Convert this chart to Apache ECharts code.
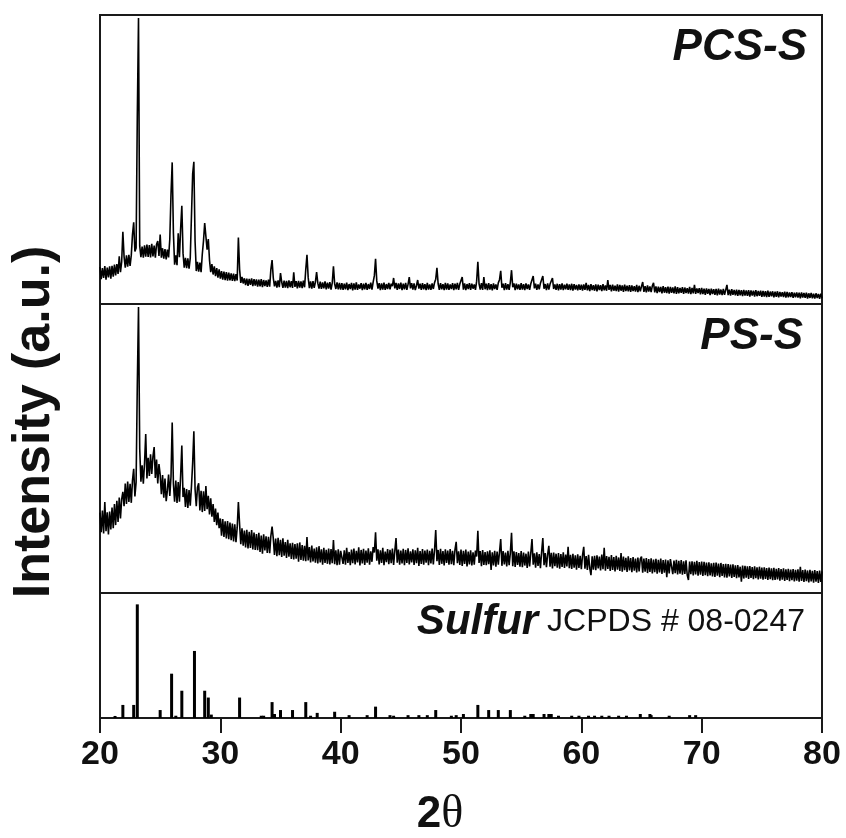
<!DOCTYPE html>
<html>
<head>
<meta charset="utf-8">
<script src="https://cdn.jsdelivr.net/npm/echarts@6/dist/echarts.min.js"></script>
<style>html,body{margin:0;padding:0;background:#fff;}#c{width:846px;height:838px;}</style>
</head>
<body>
<div id="c"></div>
<script>
// ---- DATA ----
// PCS-S pattern, 2θ = 20.0 .. 40.0 step 0.1
const pcsLow = [
12.8, 8.6, 12.4, 9.0, 13.1, 8.4, 12.6, 9.2, 13.0, 8.8,
13.2, 9.5, 13.6, 9.9, 13.8, 10.4, 16.5, 11.0, 14.6, 25.0,
16.4, 12.6, 16.8, 12.9, 17.0, 13.2, 16.9, 24.0, 28.3, 18.2,
19.4, 65.0, 99.0, 20.1, 16.2, 19.9, 16.0, 20.3, 16.4, 20.6,
16.3, 20.4, 16.1, 20.8, 16.5, 20.2, 16.0, 20.7, 21.8, 16.6,
24.0, 16.0, 19.3, 15.7, 19.0, 15.4, 18.8, 16.1, 22.4, 38.0,
49.0, 24.6, 13.6, 16.8, 13.4, 24.5, 16.2, 26.0, 34.0, 17.6,
12.6, 16.0, 12.4, 15.8, 12.2, 15.9, 16.3, 45.0, 49.2, 21.8,
11.4, 14.6, 11.2, 14.3, 11.0, 17.2, 21.8, 28.0, 23.4, 18.8,
22.5, 15.2, 11.0, 13.8, 10.2, 13.0, 9.6, 12.4, 9.1, 12.0,
8.8, 11.4, 8.4, 11.2, 8.3, 11.0, 8.1, 10.9, 8.2, 10.6,
8.0, 10.5, 7.9, 10.3, 8.1, 23.0, 12.0, 7.3, 9.4, 7.1,
8.9, 6.5, 8.8, 6.3, 8.7, 6.6, 8.9, 6.2, 8.6, 6.4,
8.5, 6.0, 8.4, 6.1, 8.6, 5.8, 8.3, 6.2, 8.2, 5.9,
8.4, 6.0, 12.0, 15.2, 9.0, 6.1, 8.0, 5.7, 8.2, 5.8,
10.7, 7.6, 5.6, 8.1, 5.7, 8.0, 5.5, 8.2, 5.8, 7.9,
5.6, 11.0, 5.9, 7.9, 5.4, 8.0, 5.7, 7.8, 5.5, 8.1,
5.8, 12.0, 17.0, 9.2, 5.5, 7.8, 5.3, 7.9, 5.6, 7.6,
11.0, 7.2, 5.3, 7.7, 5.2, 7.5, 5.4, 7.8, 5.1, 7.4,
5.3, 7.6, 5.0, 7.3, 13.0, 7.0, 5.2, 7.5, 5.1, 7.3, 5.0
];
// PCS-S pattern, 2θ = 40.1 .. 80.0 step 0.1
const pcsHigh = [
7.2, 4.9, 7.0, 5.1, 7.4, 4.8, 6.9, 5.2, 7.3, 4.7,
7.1, 5.0, 7.5, 4.9, 6.8, 5.3, 7.2, 4.8, 7.0, 5.1,
7.3, 4.9, 6.9, 5.2, 7.4, 5.0, 7.6, 9.8, 15.6, 8.0,
5.3, 7.2, 4.8, 7.1, 5.0, 7.4, 4.9, 6.9, 5.2, 7.3,
5.1, 7.0, 6.2, 9.0, 5.4, 7.3, 4.9, 7.1, 5.2, 7.4,
4.8, 7.0, 5.1, 7.3, 4.9, 6.8, 9.3, 5.4, 7.2, 5.0,
7.1, 4.8, 6.4, 8.3, 5.3, 7.0, 4.9, 7.2, 5.1, 6.9,
4.8, 7.3, 5.0, 6.8, 4.9, 7.1, 5.2, 7.4, 8.6, 12.5,
7.0, 4.9, 7.2, 5.1, 6.9, 4.8, 7.3, 5.0, 7.1, 4.9,
6.8, 5.2, 7.2, 4.8, 7.0, 5.1, 7.3, 4.9, 6.9, 6.6,
9.3, 5.0, 7.1, 4.8, 6.9, 5.2, 7.2, 4.9, 7.0, 5.3,
6.8, 4.9, 7.9, 14.6, 7.0, 5.0, 7.2, 4.9, 9.3, 5.1,
7.0, 4.8, 7.2, 5.0, 6.9, 4.7, 7.1, 5.2, 6.8, 4.9,
7.3, 8.4, 11.5, 5.6, 7.0, 4.8, 7.2, 5.0, 6.9, 4.9,
7.5, 11.7, 5.8, 7.1, 4.8, 7.0, 5.1, 6.8, 4.9, 7.2,
5.0, 6.9, 4.8, 7.1, 5.2, 6.8, 4.9, 7.0, 7.6, 9.7,
5.4, 7.0, 4.9, 6.8, 5.1, 7.2, 7.4, 9.7, 5.3, 6.9,
4.8, 7.1, 5.0, 6.9, 7.2, 9.0, 5.2, 6.8, 4.9, 7.0,
4.7, 6.9, 5.0, 7.1, 4.8, 6.7, 5.1, 7.0, 4.9, 6.8,
4.8, 7.0, 4.6, 6.9, 5.0, 6.6, 4.7, 6.8, 4.9, 6.7,
4.6, 6.8, 4.9, 7.3, 4.7, 6.6, 4.5, 6.9, 4.8, 6.5,
4.6, 6.8, 4.4, 6.7, 4.8, 6.5, 4.5, 6.9, 4.7, 6.4,
4.6, 8.3, 4.9, 6.6, 4.4, 6.7, 4.6, 6.3, 4.5, 6.8,
4.3, 6.6, 4.6, 6.4, 4.2, 6.7, 4.5, 6.3, 4.4, 6.5,
4.2, 6.4, 4.5, 6.2, 4.3, 6.6, 4.1, 6.3, 4.4, 6.1,
7.6, 4.2, 6.2, 4.0, 6.4, 4.3, 6.1, 4.1, 6.3, 7.3,
4.0, 6.1, 3.8, 6.0, 4.1, 5.9, 3.7, 6.2, 3.9, 5.8,
3.8, 6.0, 3.6, 5.9, 3.9, 5.7, 3.7, 6.1, 3.5, 5.8,
3.7, 5.6, 3.9, 5.8, 3.5, 5.7, 3.8, 5.5, 3.6, 5.9,
3.4, 5.6, 3.7, 6.6, 3.5, 5.4, 3.8, 5.5, 3.3, 5.6,
3.4, 5.3, 3.2, 5.4, 3.5, 5.2, 3.1, 5.3, 3.4, 5.1,
3.2, 5.2, 3.0, 5.3, 3.3, 5.0, 3.1, 5.2, 3.2, 4.9,
6.6, 3.1, 5.0, 2.9, 5.1, 3.2, 4.9, 3.0, 5.0, 2.8,
4.9, 3.0, 4.8, 2.7, 4.9, 2.9, 4.7, 2.8, 4.8, 2.6,
4.7, 2.9, 4.6, 2.6, 4.8, 2.7, 4.5, 2.8, 4.6, 2.5,
4.5, 2.6, 4.4, 2.4, 4.6, 2.5, 4.3, 2.7, 4.4, 2.3,
4.3, 2.5, 4.4, 2.3, 4.2, 2.6, 4.1, 2.4, 4.3, 2.2,
4.2, 2.3, 4.0, 2.4, 4.1, 2.1, 3.9, 2.3, 4.0, 2.2,
3.9, 2.0, 4.0, 2.2, 3.8, 2.1, 3.9, 1.9, 3.7, 2.1,
3.8, 2.0, 3.6, 1.9, 3.7, 2.1, 3.5, 1.8, 3.6, 2.0
];
// PS-S pattern, 2θ = 20.0 .. 40.0 step 0.1
const psLow = [
27.8, 21.0, 28.5, 20.6, 31.5, 21.4, 27.9, 20.3, 28.2, 22.0,
29.6, 22.4, 30.8, 23.5, 31.9, 24.6, 33.0, 25.8, 32.4, 35.0,
30.0, 37.9, 30.8, 38.6, 31.5, 37.8, 31.2, 39.0, 43.0, 33.4,
38.3, 72.0, 99.0, 50.0, 38.5, 44.2, 37.8, 44.8, 55.0, 39.6,
46.8, 40.5, 48.0, 41.2, 47.2, 50.5, 39.8, 46.2, 37.9, 44.6,
41.0, 34.2, 40.8, 33.0, 39.6, 31.8, 35.5, 41.0, 33.6, 40.2,
59.0, 37.8, 31.6, 38.9, 31.2, 38.4, 31.6, 40.5, 51.0, 33.2,
36.4, 29.8, 36.0, 29.4, 35.6, 30.2, 36.9, 45.0, 56.0, 36.0,
30.0, 36.5, 38.0, 28.6, 35.4, 28.0, 35.2, 28.4, 37.0, 29.0,
33.6, 27.2, 32.8, 26.4, 30.8, 24.6, 29.2, 23.5, 27.8, 22.4,
25.8, 19.8, 25.6, 19.4, 24.8, 18.9, 24.9, 18.6, 24.4, 18.3,
24.0, 17.8, 23.8, 17.6, 22.6, 31.5, 23.8, 16.9, 22.4, 16.4,
21.6, 15.8, 21.9, 15.4, 21.2, 15.6, 21.8, 15.1, 20.9, 14.9,
20.4, 14.8, 20.8, 14.2, 19.9, 13.6, 20.3, 14.7, 19.6, 13.9,
19.4, 13.8, 19.8, 23.0, 18.9, 13.2, 18.8, 12.7, 19.1, 13.1,
18.4, 12.5, 18.9, 12.9, 17.6, 12.1, 18.4, 12.6, 17.2, 11.8,
17.4, 11.6, 16.9, 11.9, 17.2, 10.8, 17.5, 11.4, 16.6, 11.2,
16.3, 11.0, 19.4, 11.3, 15.9, 10.6, 16.4, 10.9, 15.4, 10.5,
15.8, 10.2, 16.2, 10.6, 15.1, 9.8, 15.6, 10.4, 14.9, 10.1,
15.4, 9.9, 15.2, 10.3, 18.3, 10.0, 14.8, 9.6, 15.1, 9.8, 14.6
];
// PS-S pattern, 2θ = 40.1 .. 80.0 step 0.1
const psHigh = [
15.2, 10.1, 14.8, 9.8, 15.6, 10.4, 14.2, 9.6, 15.0, 10.3,
15.4, 9.9, 14.6, 10.6, 15.8, 9.5, 14.9, 10.2, 15.3, 9.7,
14.7, 10.5, 15.5, 9.8, 14.4, 10.8, 15.9, 14.0, 21.0, 11.2,
15.1, 9.9, 14.8, 10.4, 15.6, 9.6, 14.3, 10.7, 15.2, 10.0,
14.9, 10.3, 15.4, 9.7, 14.6, 19.0, 10.5, 15.0, 9.8, 14.7,
10.2, 15.3, 9.6, 14.9, 10.4, 15.5, 9.9, 14.4, 10.6, 15.1,
9.7, 14.8, 10.3, 15.6, 9.4, 14.5, 10.1, 15.2, 9.8, 14.7,
10.5, 15.0, 9.6, 14.6, 10.2, 15.4, 9.9, 14.8, 21.8, 11.0,
14.9, 9.7, 15.3, 10.1, 14.5, 9.5, 15.1, 10.4, 14.7, 9.8,
15.2, 10.0, 14.6, 9.6, 15.0, 17.7, 10.3, 14.4, 9.7, 15.0,
9.4, 14.6, 10.1, 15.0, 9.2, 14.3, 9.9, 14.8, 9.5, 14.1,
9.8, 14.7, 12.6, 21.5, 10.4, 14.5, 9.3, 14.9, 9.7, 14.2,
9.6, 14.4, 10.0, 14.8, 8.0, 14.1, 9.5, 14.6, 9.1, 14.3,
9.8, 14.2, 18.7, 9.4, 14.5, 9.9, 14.0, 9.2, 14.6, 9.6,
13.9, 20.8, 9.3, 14.4, 9.0, 14.2, 9.7, 13.8, 9.1, 14.5,
8.9, 14.0, 9.5, 13.6, 8.7, 14.3, 9.2, 13.9, 18.7, 9.8,
13.7, 8.8, 14.1, 9.4, 13.5, 8.6, 14.2, 19.0, 9.6, 13.8,
8.9, 13.4, 16.3, 9.1, 13.9, 8.5, 14.0, 9.3, 13.6, 8.8,
13.8, 8.4, 13.5, 9.0, 14.1, 8.7, 13.3, 9.2, 16.0, 8.6,
13.2, 8.3, 13.6, 8.8, 13.0, 8.1, 13.4, 8.7, 12.9, 8.2,
13.1, 16.0, 8.4, 12.8, 8.0, 13.2, 8.6, 6.2, 12.7, 8.1,
12.9, 7.9, 13.0, 8.5, 12.6, 7.8, 13.3, 8.2, 15.6, 7.7,
12.8, 8.3, 12.5, 7.6, 13.1, 8.0, 12.4, 7.5, 12.9, 8.1,
12.3, 7.6, 13.8, 7.4, 12.6, 7.9, 12.2, 7.3, 12.7, 7.8,
12.1, 7.2, 12.4, 7.7, 11.9, 7.1, 12.3, 7.5, 11.8, 12.6,
7.0, 11.9, 7.4, 12.1, 6.9, 11.7, 7.3, 12.0, 6.8, 11.6,
7.2, 11.8, 6.7, 11.5, 7.1, 11.9, 6.6, 11.4, 7.0, 11.6,
5.5, 11.3, 6.8, 11.7, 12.0, 6.5, 11.2, 6.9, 11.5, 6.4,
11.1, 6.7, 11.4, 6.3, 11.0, 6.6, 11.3, 6.2, 4.5, 10.9,
6.5, 11.0, 6.1, 10.8, 6.4, 11.1, 6.0, 10.7, 6.3, 10.9,
5.9, 10.8, 6.2, 10.5, 5.8, 10.6, 6.1, 10.3, 5.7, 10.4,
5.6, 10.5, 6.0, 10.2, 5.5, 10.4, 5.9, 10.0, 5.4, 10.1,
5.3, 10.0, 5.7, 9.8, 5.2, 9.9, 5.6, 9.6, 5.1, 9.7,
5.4, 9.1, 3.9, 9.5, 5.0, 9.4, 5.3, 9.2, 4.9, 9.3,
5.2, 9.0, 4.8, 9.2, 5.1, 8.9, 4.7, 9.1, 5.0, 8.8,
4.6, 8.9, 4.9, 8.6, 4.5, 8.8, 4.8, 8.5, 4.4, 8.7,
4.5, 8.4, 4.7, 8.6, 4.3, 8.3, 4.6, 8.5, 4.2, 8.2,
4.5, 8.4, 4.1, 8.1, 4.4, 8.3, 4.0, 8.0, 4.3, 8.2,
3.9, 9.1, 4.2, 7.9, 3.8, 8.1, 4.1, 7.8, 3.7, 8.0,
4.0, 7.7, 3.6, 7.9, 3.9, 7.6, 3.5, 7.8, 3.8, 7.5
];
// Sulfur JCPDS # 08-0247 reference lines
const sulfurPos = [21.25, 21.9, 22.8, 23.1, 25.0, 25.95, 26.3, 26.8, 27.85, 28.7, 29.0, 29.25,
  31.6, 33.4, 33.6, 34.3, 34.5, 35.0, 36.0, 37.1, 37.5, 38.05, 39.5, 40.7, 42.2, 42.9,
  44.1, 44.4, 45.6, 46.5, 47.2, 47.9, 49.2, 49.6, 50.2, 51.4, 52.3, 53.1, 54.1, 55.3,
  55.8, 56.0, 56.9, 57.3, 57.5, 58.1, 59.2, 59.8, 60.6, 61.1, 61.7, 62.3, 63.1, 63.75,
  64.9, 65.7, 65.8, 67.3, 69.0, 69.5];
const sulfurInt = [1.8, 11.5, 11.5, 100, 7, 39, 2, 24, 59, 24, 18, 3,
  18, 2, 2, 14, 3.5, 7, 7, 14, 2, 4.5, 5.5, 2.5, 2.5, 10,
  2.5, 2, 2.5, 2.5, 2.5, 7, 2, 2.5, 3.5, 11.5, 7, 7, 7, 2,
  3.5, 3.5, 3.5, 3.5, 3.5, 2, 2, 2, 2, 2, 2, 2, 2, 2,
  3.5, 3.5, 2.5, 2, 2.5, 2.5];
const xTickLabels = [20, 30, 40, 50, 60, 70, 80];
const panelLabels = ['PCS-S', 'PS-S'];

// ---- BUILD ----
function build(low, high) {
  const out = [];
  low.forEach((v, i) => out.push([+(20 + i * 0.1).toFixed(1), v]));
  high.forEach((v, j) => out.push([+(40.1 + j * 0.1).toFixed(1), v]));
  return out;
}
const pcsData = build(pcsLow, pcsHigh);
const psData = build(psLow, psHigh);
const sulfurData = sulfurPos.map((p, i) => [p, sulfurInt[i]]);

const FONT = '"Liberation Sans", Arial, sans-serif';
const frame = { show: true, borderColor: '#1a1a1a', borderWidth: 2, backgroundColor: 'transparent' };
const xMin = xTickLabels[0], xMax = xTickLabels[xTickLabels.length - 1];

function xAx(idx, showLabels) {
  return {
    type: 'value', gridIndex: idx, min: xMin, max: xMax, interval: 10,
    axisLine: { show: showLabels, lineStyle: { color: '#1a1a1a', width: 2 } },
    axisTick: { show: showLabels, inside: false, length: 15, lineStyle: { color: '#1a1a1a', width: 2 } },
    axisLabel: { show: showLabels, margin: 20, fontSize: 34, fontWeight: 'bold', color: '#111', fontFamily: FONT },
    splitLine: { show: false }
  };
}
function yAx(idx, max) {
  return {
    type: 'value', gridIndex: idx, min: 0, max: max,
    axisLine: { show: false }, axisTick: { show: false }, axisLabel: { show: false }, splitLine: { show: false }
  };
}

const chart = echarts.init(document.getElementById('c'), null, { renderer: 'canvas' });
chart.setOption({
  animation: false,
  backgroundColor: '#fff',
  grid: [
    Object.assign({ left: 100, right: 24, top: 15, height: 289 }, frame),
    Object.assign({ left: 100, right: 24, top: 304, height: 289 }, frame),
    Object.assign({ left: 100, right: 24, top: 593, height: 125 }, frame)
  ],
  xAxis: [xAx(0, false), xAx(1, false), xAx(2, true)],
  yAxis: [yAx(0, 100), yAx(1, 100), yAx(2, 110)],
  series: [
    { type: 'line', xAxisIndex: 0, yAxisIndex: 0, data: pcsData, showSymbol: false, symbol: 'none',
      lineStyle: { color: '#000', width: 1.6 } },
    { type: 'line', xAxisIndex: 1, yAxisIndex: 1, data: psData, showSymbol: false, symbol: 'none',
      lineStyle: { color: '#000', width: 1.6 } },
    { type: 'bar', xAxisIndex: 2, yAxisIndex: 2, data: sulfurData, barWidth: 3,
      itemStyle: { color: '#000' } }
  ],
  graphic: [
    { type: 'text', x: 807, y: 48, style: { text: panelLabels[0], fontSize: 44, fontWeight: 'bold', fontStyle: 'italic',
      fontFamily: FONT, fill: '#111', align: 'right', verticalAlign: 'middle' } },
    { type: 'text', x: 803, y: 337, style: { text: panelLabels[1], fontSize: 44, fontWeight: 'bold', fontStyle: 'italic',
      fontFamily: FONT, fill: '#111', align: 'right', verticalAlign: 'middle' } },
    { type: 'text', x: 805, y: 622, style: {
      text: '{a|Sulfur}{b| JCPDS # 08-0247}', align: 'right', verticalAlign: 'middle',
      rich: {
        a: { fontSize: 42, fontWeight: 'bold', fontStyle: 'italic', fontFamily: FONT, fill: '#111' },
        b: { fontSize: 32, fontFamily: FONT, fill: '#111' }
      } } },
    { type: 'text', x: 35, y: 422, rotation: Math.PI / 2, style: { text: 'Intensity (a.u.)', fontSize: 52,
      fontWeight: 'bold', fontFamily: FONT, fill: '#111', align: 'center', verticalAlign: 'middle' } },
    { type: 'text', x: 440, y: 815, style: {
      text: '{a|2}{b|θ}', align: 'center', verticalAlign: 'middle',
      rich: {
        a: { fontSize: 44, fontWeight: 'bold', fontFamily: FONT, fill: '#111' },
        b: { fontSize: 46, fontFamily: '"Liberation Serif", "DejaVu Serif", serif', fill: '#111' }
      } } }
  ]
});
</script>
</body>
</html>
